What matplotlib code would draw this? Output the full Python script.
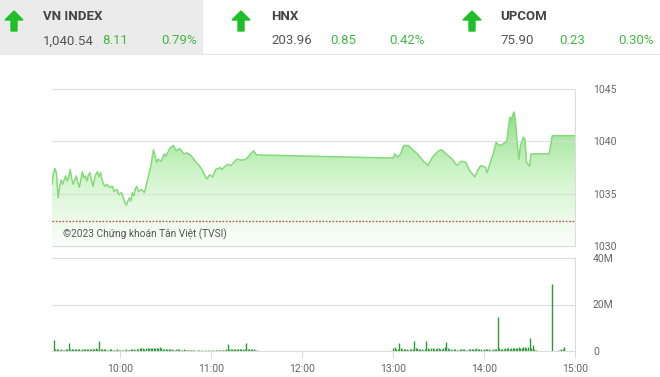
import numpy as np
import matplotlib.pyplot as plt
from matplotlib.patches import Polygon, Rectangle
from matplotlib.colors import LinearSegmentedColormap
from matplotlib.lines import Line2D

plt.rcParams['font.family'] = ['Roboto', 'DejaVu Sans']

# header quotes
idx_names = ["VN INDEX", "HNX", "UPCOM"]
idx_last = ["1,040.54", "203.96", "75.90"]
idx_chg = ["8.11", "0.85", "0.23"]
idx_pct = ["0.79%", "0.42%", "0.30%"]

# intraday VN-Index, minutes after 09:00
price_min = [15, 16, 17, 18, 19, 20, 21, 22, 24, 25, 26, 27, 28, 29, 30, 31, 32, 33,
             34, 35, 36, 37, 38, 39, 40, 41, 42, 43, 44, 45, 46, 47, 48, 49, 50, 51,
             53, 55, 56, 58, 59, 61, 62, 63, 64, 66, 67, 68, 69, 70, 71, 72, 74, 76,
             78, 80, 81, 82, 84, 85, 87, 89, 90, 92, 93, 95, 97, 99, 100, 102, 104,
             107, 110, 112, 114, 117, 119, 121, 123, 126, 127, 129, 131, 133, 135,
             137, 140, 143, 146, 148, 150,
             240, 241, 243, 245, 247, 250, 253, 256, 260, 263, 266, 270, 272, 275,
             279, 282, 285, 288, 290, 294, 296, 298, 301, 302, 306, 308, 310, 312,
             315, 316, 317, 318, 319, 320, 321, 322, 323, 324, 326, 327, 328, 330,
             331, 343, 345, 360]
price_val = [1035.9, 1037.0, 1037.4, 1036.9, 1034.6, 1035.6, 1036.3, 1035.9, 1036.7,
             1036.2, 1036.6, 1037.3, 1036.4, 1035.9, 1036.3, 1036.7, 1036.1, 1035.6,
             1036.3, 1037.1, 1036.5, 1036.7, 1036.2, 1036.8, 1037.0, 1036.3, 1035.7,
             1036.4, 1036.9, 1037.1, 1036.6, 1037.0, 1036.4, 1035.9, 1035.7, 1035.9,
             1035.6, 1035.7, 1035.2, 1035.4, 1034.9, 1035.1, 1034.6, 1034.2, 1033.9,
             1034.6, 1034.3, 1035.1, 1034.8, 1035.5, 1035.7, 1035.2, 1035.4, 1035.1,
             1036.3, 1037.5, 1038.4, 1039.2, 1038.0, 1038.3, 1038.1, 1038.8, 1038.6,
             1039.1, 1039.4, 1039.6, 1039.1, 1039.3, 1039.2, 1038.8, 1038.9, 1038.6,
             1038.0, 1037.7, 1037.3, 1036.4, 1036.8, 1036.6, 1037.3, 1037.5, 1037.3,
             1037.6, 1037.8, 1037.7, 1038.0, 1038.3, 1038.2, 1038.3, 1038.8, 1039.1,
             1038.7,
             1038.4, 1038.8, 1038.5, 1038.8, 1039.6, 1039.6, 1039.2, 1038.8, 1038.1,
             1037.7, 1038.5, 1039.1, 1039.2, 1038.8, 1038.3, 1037.7, 1038.1, 1038.0,
             1037.3, 1036.6, 1037.3, 1037.7, 1037.5, 1037.0, 1038.8, 1039.9, 1039.6,
             1039.7, 1040.0, 1041.2, 1042.3, 1042.0, 1042.6, 1042.8, 1041.5, 1039.6,
             1038.3, 1039.6, 1040.4, 1040.2, 1038.0, 1037.6, 1038.8, 1038.8, 1040.54,
             1040.54]
ref_price = 1032.43

# matched volume (millions), one value per minute
am_start = 16
am_vol = [4.7, 0.9, 0.8, 0.7, 0.6, 0.7, 0.5, 0.6, 0.7, 0.8,
          3.6, 0.8, 0.9, 0.8, 0.7, 0.9, 0.8, 0.7, 0.6, 0.8,
          0.9, 0.8, 0.7, 0.9, 1.0, 0.9, 0.8, 1.0, 1.1, 1.0,
          4.5, 1.0, 0.9, 0.8, 0.7, 0.6, 0.6, 0.7, 0.8, 0.6,
          0.5, 0.6, 0.7, 0.6, 0.6, 0.5, 0.5, 0.6, 0.7, 0.6,
          0.6, 0.7, 0.8, 0.7, 0.6, 0.8, 1.0, 1.2, 1.3, 1.1,
          0.9, 1.2, 1.4, 1.3, 1.2, 1.3, 1.5, 1.2, 1.1, 1.4,
          1.7, 1.2, 1.0, 0.9, 0.8, 0.9, 0.9, 0.8, 0.7, 0.6,
          0.6, 0.7, 0.8, 0.7, 0.6, 0.6, 0.7, 0.6, 0.5, 0.5,
          0.6, 0.5, 0.4, 0.3, 0.0, 0.3, 0.4, 0.0, 0.3, 0.0,
          0.3, 0.0, 0.3, 0.0, 0.3, 0.4, 0.0, 0.4, 0.5, 0.4,
          0.5, 0.6, 0.6, 0.5, 0.7, 2.9, 0.9, 0.8, 0.7, 0.9,
          0.8, 0.7, 0.9, 1.0, 0.9, 0.8, 0.9, 3.6, 1.0, 0.9,
          0.8, 0.7, 0.7, 0.6, 0.5]
pm_start = 240
pm_vol = [1.2, 1.9, 1.0, 0.8, 3.3, 1.1, 1.0, 0.9, 0.9, 0.7,
          0.6, 0.7, 0.8, 1.0, 4.5, 1.3, 1.2, 0.9, 0.8, 0.7,
          0.6, 0.8, 4.5, 1.2, 1.0, 1.1, 1.1, 0.9, 1.0, 1.1,
          1.2, 1.0, 0.9, 1.1, 1.6, 3.7, 1.2, 1.0, 0.8, 0.6,
          0.7, 0.7, 0.6, 0.6, 0.7, 0.8, 0.7, 0.7, 0.6, 0.6,
          0.8, 0.9, 0.8, 0.7, 1.0, 1.3, 0.9, 0.8, 0.7, 0.6,
          0.8, 0.9, 0.8, 0.7, 0.6, 0.6, 0.7, 0.8, 1.0, 14.6,
          1.2, 1.0, 0.9, 0.9, 1.1, 1.2, 1.1, 1.0, 1.3, 1.4,
          1.2, 1.3, 1.5, 1.6, 1.4, 1.5, 1.7, 1.8, 1.5, 1.6,
          5.5, 1.2, 2.6, 0.8, 0.5]
late_min = [345, 349, 350, 351, 352, 353]
late_vol = [29.0, 0.6, 0.4, 0.8, 1.0, 1.9]

hour_ticks = [60, 120, 180, 240, 300, 360]
hour_labels = ["10:00", "11:00", "12:00", "13:00", "14:00", "15:00"]

vol_min = (list(range(am_start, am_start + len(am_vol)))
           + list(range(pm_start, pm_start + len(pm_vol))) + late_min)
vol_val = am_vol + pm_vol + late_vol

W, H = 660, 377
fig = plt.figure(figsize=(W / 100, H / 100), dpi=100)
fig.patch.set_facecolor("white")


def fx(x):
    return x / W


def fy(y):
    return 1 - y / H


GRAY = "#666666"
GRID = "#dcdcdc"
UP = "#1fbf2a"

# header
fig.patches.append(Rectangle((0, fy(54)), fx(202), 54 / H, transform=fig.transFigure,
                             color="#ebebeb", zorder=0))
fig.lines.append(Line2D([fx(202), 1], [fy(54), fy(54)], transform=fig.transFigure,
                        color="#e4e4e4", lw=0.8))
arrow_x = [14, 241, 472]
text_x = [43, 271, 500]
for i in range(3):
    cx = arrow_x[i]
    pts = [(cx, 11), (cx + 9, 20), (cx + 3, 20), (cx + 3, 31),
           (cx - 3, 31), (cx - 3, 20), (cx - 9, 20)]
    fig.patches.append(Polygon([(fx(a), fy(b)) for a, b in pts], closed=True,
                               transform=fig.transFigure, color=UP, zorder=3))
    tx = text_x[i]
    fig.text(fx(tx), fy(16), idx_names[i], fontsize=9.5, fontweight="bold",
             color="#444444", va="center")
    fig.text(fx(tx), fy(41), idx_last[i], fontsize=9.5, color="#555555", va="center")
    fig.text(fx(tx + 59), fy(41), idx_chg[i], fontsize=9.5, color="#45b845", va="center")
    fig.text(fx(tx + 118), fy(41), idx_pct[i], fontsize=9.5, color="#45b845", va="center")

# price panel
ax = fig.add_axes([fx(52), fy(246), fx(575) - fx(52), (246 - 89) / H])
ax.set_xlim(15, 360)
ax.set_ylim(1030, 1045)
pm = np.array(price_min)
pv = np.array(price_val)
fill = ax.fill_between(pm, pv, 1030, color="none", lw=0)
cmap = LinearSegmentedColormap.from_list("g", ["#fbfefb", "#d4f5cf", "#8fe086"])
grad = np.linspace(0, 1, 256).reshape(-1, 1)
im = ax.imshow(grad, extent=[15, 360, 1030, 1043], origin="lower", aspect="auto",
               cmap=cmap, zorder=1)
im.set_clip_path(fill.get_paths()[0], transform=ax.transData)
ax.plot(pm, pv, color="#86d97c", lw=1.1, zorder=3)
ax.axhline(ref_price, color="#c0504d", lw=1, ls=(0, (1.2, 1.2)), zorder=4)
for v in [1035, 1040]:
    ax.axhline(v, color=GRID, lw=0.8, zorder=2, alpha=0.9)
ax.text(22, 1030.8, "\u00a92023 Chứng khoán Tân Việt (TVSI)", fontsize=7.3,
        color="#555555", zorder=5)
ax.yaxis.tick_right()
ax.set_yticks([1030, 1035, 1040, 1045])
ax.tick_params(axis="y", length=0, pad=13, labelsize=7.5, labelcolor=GRAY)
ax.tick_params(axis="x", length=0, labelbottom=False)
for s in ["top", "bottom", "right"]:
    ax.spines[s].set_color(GRID)
    ax.spines[s].set_linewidth(0.8)
ax.spines["left"].set_visible(False)

# volume panel
av = fig.add_axes([fx(52), fy(351), fx(575) - fx(52), (351 - 258) / H])
av.set_xlim(15, 360)
av.set_ylim(0, 40)
av.vlines(vol_min, 0, vol_val, color="#2e9a35", lw=1.0)
av.axhline(20, color=GRID, lw=0.8, zorder=0)
av.yaxis.tick_right()
av.set_yticks([0, 20, 40])
av.set_yticklabels(["0", "20M", "40M"])
av.tick_params(axis="y", length=0, pad=13, labelsize=7.5, labelcolor=GRAY)
av.set_xticks(hour_ticks)
av.set_xticklabels(hour_labels)
av.tick_params(axis="x", length=5, width=0.8, color=GRID, labelsize=7.5,
               labelcolor=GRAY, pad=4)
for s in ["top", "bottom", "right"]:
    av.spines[s].set_color(GRID)
    av.spines[s].set_linewidth(0.8)
av.spines["left"].set_visible(False)

fig.savefig("out.png", dpi=100)
